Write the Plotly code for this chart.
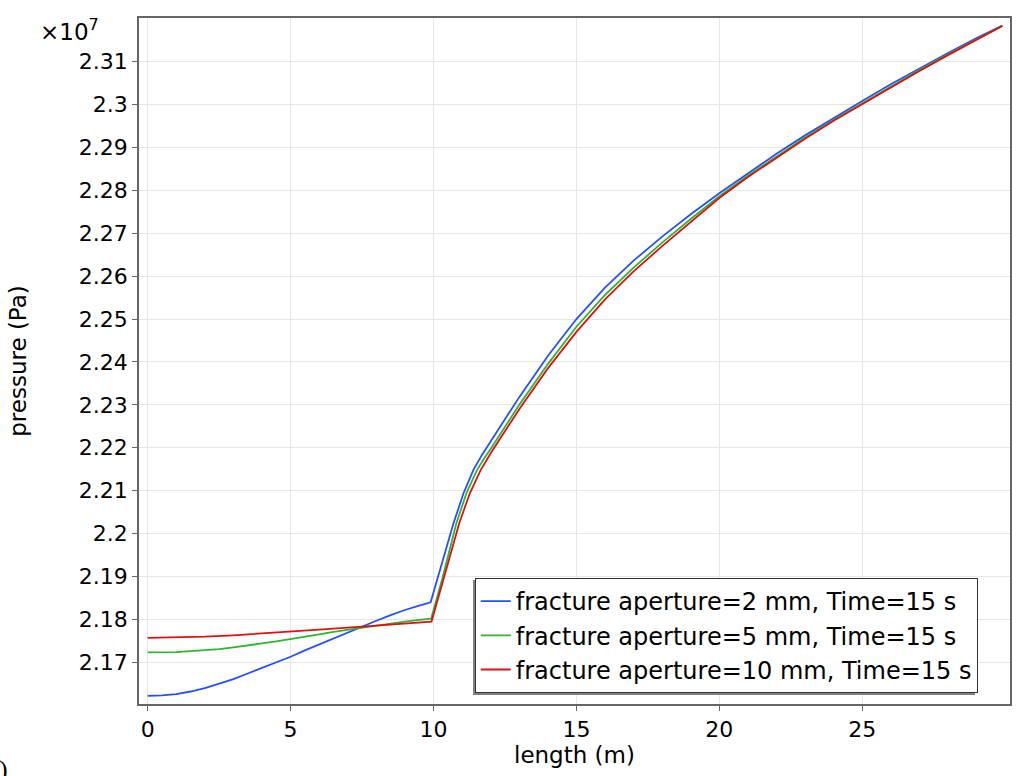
import plotly.graph_objects as go

# ---------------- data (pressure in units of 1e7 Pa) ----------------
x_2mm = [0, 0.5, 1, 1.5, 2, 2.5, 3, 3.5, 4, 4.5, 5, 5.5, 6, 6.5, 7, 7.5, 8, 8.5, 9, 9.5, 9.9,
         10.3, 10.7, 11.05, 11.4, 11.7, 12, 13, 14, 15, 16, 17, 18, 19, 20,
         21, 22, 23, 24, 25, 26, 27, 28, 29, 29.9]
p_2mm = [2.1622, 2.1623, 2.1626, 2.1632, 2.1640, 2.1650, 2.1661, 2.1674, 2.1687, 2.1700, 2.1713,
         2.1728, 2.1742, 2.1756, 2.1769, 2.1783, 2.1797, 2.1810, 2.1822, 2.1832, 2.1840,
         2.1932, 2.2024, 2.2094, 2.2149, 2.2184, 2.2215, 2.2318, 2.2414, 2.2500, 2.2573, 2.2636,
         2.2692, 2.2744, 2.2793, 2.2840, 2.2885, 2.2928, 2.2969, 2.3008, 2.3047, 2.3084, 2.3120,
         2.3155, 2.3184]

x_5mm = [0, 0.5, 1, 1.5, 2, 2.5, 3, 3.5, 4, 4.5, 5, 5.5, 6, 6.5, 7, 7.5, 8, 8.5, 9, 9.5, 9.92,
         10.3, 10.8, 11.15, 11.52, 11.8, 12, 13, 14, 15, 16, 17, 18, 19, 20,
         21, 22, 23, 24, 25, 26, 27, 28, 29, 29.9]
p_5mm = [2.1723, 2.1723, 2.1724, 2.1726, 2.1728, 2.1731, 2.1735, 2.1739, 2.1744, 2.1749, 2.1754,
         2.1760, 2.1765, 2.1771, 2.1776, 2.1781, 2.1786, 2.1791, 2.1795, 2.1799, 2.1802,
         2.1893, 2.2024, 2.2094, 2.2148, 2.2178, 2.2197, 2.2300, 2.2395, 2.2482, 2.2556, 2.2620,
         2.2678, 2.2733, 2.2786, 2.2834, 2.2879, 2.2923, 2.2964, 2.3003, 2.3042, 2.3080, 2.3117,
         2.3152, 2.3183]

x_10mm = [0, 1, 2, 3, 4, 5, 6, 7, 8, 9, 9.93,
          10.3, 10.9, 11.27, 11.65, 12, 13, 14, 15, 16, 17, 18, 19, 20,
          21, 22, 23, 24, 25, 26, 27, 28, 29, 29.9]
p_10mm = [2.1757, 2.1758, 2.1760, 2.1763, 2.1767, 2.1771, 2.1776, 2.1781, 2.1786, 2.1791, 2.1795,
          2.1882, 2.2024, 2.2094, 2.2148, 2.2187, 2.2290, 2.2385, 2.2470, 2.2546, 2.2611,
          2.2670, 2.2727, 2.2782, 2.2831, 2.2876, 2.2920, 2.2962, 2.3001, 2.3040, 2.3078, 2.3115,
          2.3151, 2.3183]

series_names = ["fracture aperture=2 mm, Time=15 s",
                "fracture aperture=5 mm, Time=15 s",
                "fracture aperture=10 mm, Time=15 s"]

x_tickvals = [0, 5, 10, 15, 20, 25]
y_tickvals = [2.17, 2.18, 2.19, 2.20, 2.21, 2.22, 2.23, 2.24, 2.25, 2.26, 2.27, 2.28, 2.29, 2.30, 2.31]
y_ticktext = ["2.17", "2.18", "2.19", "2.2", "2.21", "2.22", "2.23", "2.24", "2.25", "2.26",
              "2.27", "2.28", "2.29", "2.3", "2.31"]

# ---------------- styling ----------------
FONT = "DejaVu Sans"
colors = ["#2450ff", "#2fb52f", "#dd1111"]
xr = [-0.304, 30.17]
yr = [2.16029, 2.32015]

fig = go.Figure()
for i, (xs, ys) in enumerate([(x_2mm, p_2mm), (x_5mm, p_5mm), (x_10mm, p_10mm)]):
    fig.add_trace(go.Scatter(x=xs, y=ys, mode="lines", name=series_names[i],
                             legendgroup=f"g{i}",
                             line=dict(color=colors[i], width=1.8)))

axis_line = dict(showline=True, linecolor="#666666", linewidth=1.5, mirror=True)
fig.update_layout(
    width=1017, height=776,
    margin=dict(l=139, r=7, t=18, b=72, autoexpand=False),
    paper_bgcolor="white", plot_bgcolor="white",
    font=dict(family=FONT, size=22, color="black"),
    xaxis=dict(range=xr, tickvals=x_tickvals, ticks="outside", ticklen=5, tickcolor="#666666",
               showgrid=True, gridcolor="#e6e6e6", gridwidth=1, zeroline=False,
               tickfont=dict(size=22), title=dict(text="length (m)", standoff=2, font=dict(size=23)),
               **axis_line),
    yaxis=dict(range=yr, tickvals=y_tickvals, ticktext=y_ticktext, ticks="outside", ticklen=5,
               tickcolor="#666666", showgrid=True, gridcolor="#e6e6e6", gridwidth=1, zeroline=False,
               tickfont=dict(size=22), title=dict(text="pressure (Pa)", standoff=46, font=dict(size=23)),
               **axis_line),
    xaxis2=dict(overlaying="x", side="top", anchor="y", range=xr, tickvals=x_tickvals,
                ticks="inside", ticklen=5, tickcolor="#666666", showticklabels=False,
                showgrid=False, zeroline=False),
    yaxis2=dict(overlaying="y", side="right", anchor="x", range=yr, tickvals=y_tickvals,
                ticks="inside", ticklen=5, tickcolor="#666666", showticklabels=False,
                showgrid=False, zeroline=False),
    legend=dict(x=0.963, y=0.016, xanchor="right", yanchor="bottom",
                bgcolor="white", bordercolor="#333333", borderwidth=1,
                font=dict(size=24), itemwidth=30, tracegroupgap=0,
                traceorder="grouped"),
    showlegend=True,
)

# legend drop shadow (offset down-left)
fig.add_shape(type="rect", xref="paper", yref="paper",
              x0=0.3835, x1=0.9598, y0=0.0131, y1=0.1808,
              fillcolor="#808080", line=dict(width=0), layer="above")

fig.add_annotation(text="×10<sup>7</sup>", xref="paper", yref="paper", x=-0.044, y=0.982,
                   xanchor="right", yanchor="middle", showarrow=False, font=dict(size=23))
fig.add_annotation(text=")", xref="paper", yref="paper", x=-0.148, y=-0.096,
                   xanchor="right", yanchor="middle", showarrow=False,
                   font=dict(size=26, family="Liberation Serif"))

fig.write_html("out.html")
